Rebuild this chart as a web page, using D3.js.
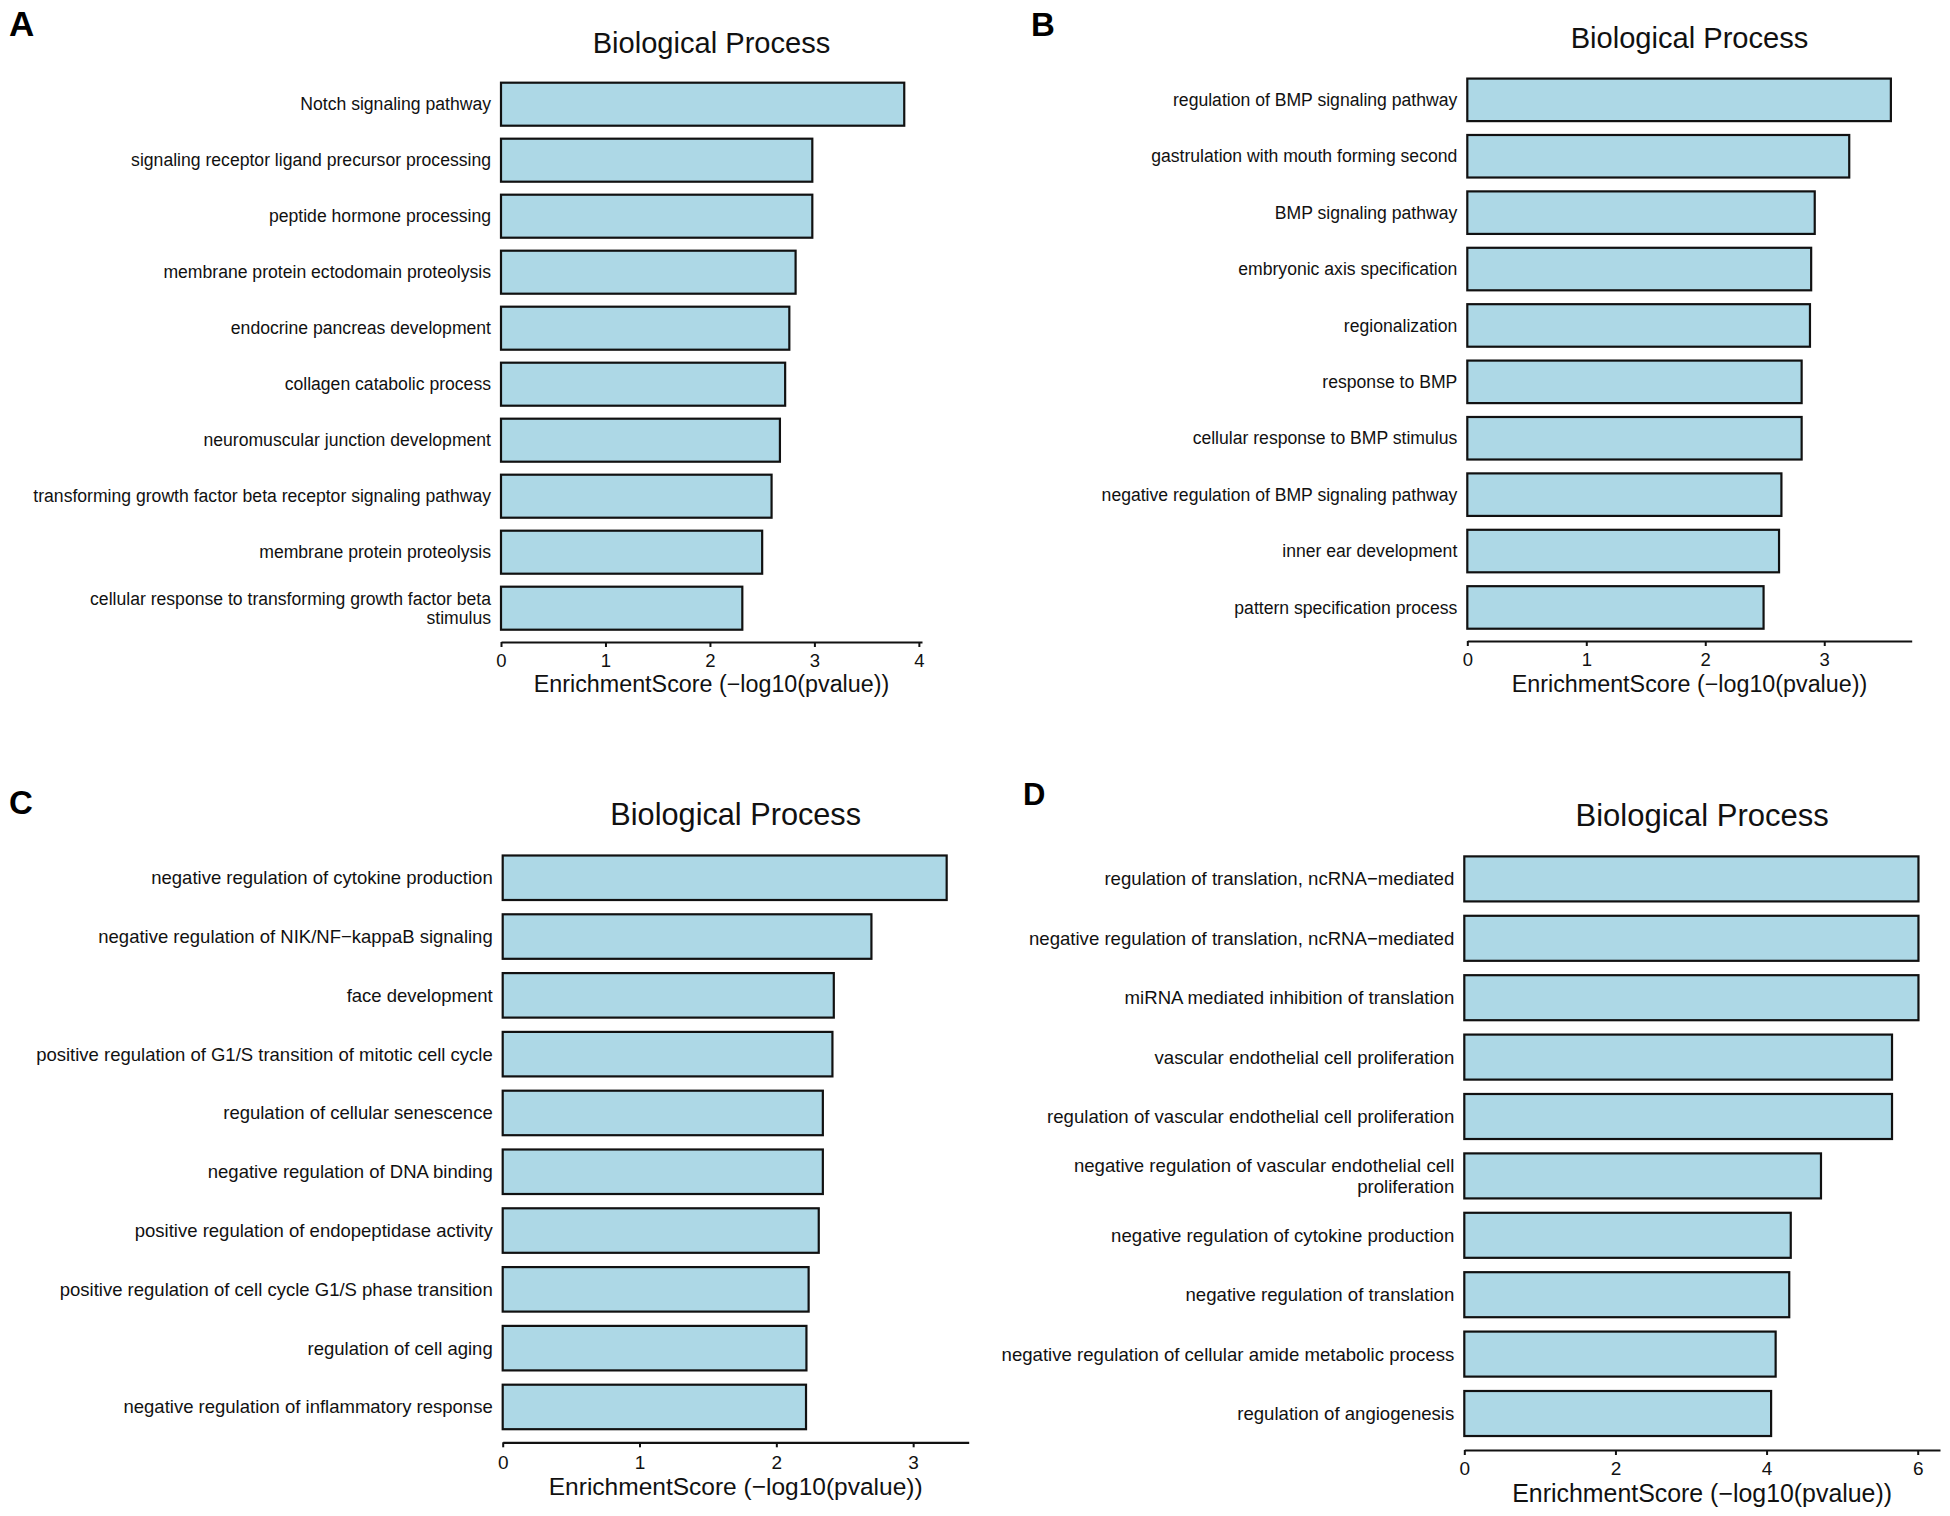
<!DOCTYPE html>
<html>
<head>
<meta charset="utf-8">
<script src="https://cdn.jsdelivr.net/npm/d3@7"></script>
<style>
  html, body { margin: 0; padding: 0; background: #ffffff; }
  svg { display: block; font-family: "Liberation Sans", Arial, Helvetica, sans-serif; }
</style>
</head>
<body>
<svg id="chart" width="1950" height="1516"></svg>
<script>
// ---------------- DATA ----------------
const panelTitle = "Biological Process";
const axisTitle = "EnrichmentScore (\u2212log10(pvalue))";

const categoriesA = [
  "Notch signaling pathway",
  "signaling receptor ligand precursor processing",
  "peptide hormone processing",
  "membrane protein ectodomain proteolysis",
  "endocrine pancreas development",
  "collagen catabolic process",
  "neuromuscular junction development",
  "transforming growth factor beta receptor signaling pathway",
  "membrane protein proteolysis",
  "cellular response to transforming growth factor beta stimulus"
];
const valuesA = [3.86, 2.98, 2.98, 2.82, 2.76, 2.72, 2.67, 2.59, 2.50, 2.31];
const ticksA = [0, 1, 2, 3, 4];

const categoriesB = [
  "regulation of BMP signaling pathway",
  "gastrulation with mouth forming second",
  "BMP signaling pathway",
  "embryonic axis specification",
  "regionalization",
  "response to BMP",
  "cellular response to BMP stimulus",
  "negative regulation of BMP signaling pathway",
  "inner ear development",
  "pattern specification process"
];
const valuesB = [3.56, 3.21, 2.92, 2.89, 2.88, 2.81, 2.81, 2.64, 2.62, 2.49];
const ticksB = [0, 1, 2, 3];

const categoriesC = [
  "negative regulation of cytokine production",
  "negative regulation of NIK/NF\u2212kappaB signaling",
  "face development",
  "positive regulation of G1/S transition of mitotic cell cycle",
  "regulation of cellular senescence",
  "negative regulation of DNA binding",
  "positive regulation of endopeptidase activity",
  "positive regulation of cell cycle G1/S phase transition",
  "regulation of cell aging",
  "negative regulation of inflammatory response"
];
const valuesC = [3.245, 2.695, 2.42, 2.41, 2.34, 2.34, 2.31, 2.236, 2.22, 2.217];
const ticksC = [0, 1, 2, 3];

const categoriesD = [
  "regulation of translation, ncRNA\u2212mediated",
  "negative regulation of translation, ncRNA\u2212mediated",
  "miRNA mediated inhibition of translation",
  "vascular endothelial cell proliferation",
  "regulation of vascular endothelial cell proliferation",
  "negative regulation of vascular endothelial cell proliferation",
  "negative regulation of cytokine production",
  "negative regulation of translation",
  "negative regulation of cellular amide metabolic process",
  "regulation of angiogenesis"
];
const valuesD = [6.01, 6.01, 6.01, 5.66, 5.66, 4.72, 4.32, 4.30, 4.12, 4.06];
const ticksD = [0, 2, 4, 6];

const panelLetters = ["A", "B", "C", "D"];

// ---------------- LAYOUT ----------------
const layouts = [
  { letter: {x: 9, y: 36, size: 35}, xRange: [501, 922], xMax: 4.03, yRange: [76.2, 636.2], pad: 0.232,
    axisY: 642, titleY: 53.3, titleSize: 29.1, labelSize: 17.6, tickSize: 18.5, tickBase: 24.5,
    axisTitleY: 691.7, axisTitleSize: 23.3 },
  { letter: {x: 1031, y: 36, size: 33}, xRange: [1467.3, 1911.7], xMax: 3.735, yRange: [71.65, 635.65], pad: 0.246,
    axisY: 641, titleY: 48.3, titleSize: 29.1, labelSize: 17.6, tickSize: 18.5, tickBase: 25,
    axisTitleY: 691.7, axisTitleSize: 23.3 },
  { letter: {x: 9, y: 814, size: 33}, xRange: [502.7, 968.7], xMax: 3.406, yRange: [848.35, 1436.35], pad: 0.243,
    axisY: 1442.3, titleY: 825, titleSize: 30.7, labelSize: 18.5, tickSize: 19, tickBase: 26.5,
    axisTitleY: 1495, axisTitleSize: 24.5 },
  { letter: {x: 1023, y: 805, size: 31}, xRange: [1464.3, 1940], xMax: 6.295, yRange: [849.2, 1443.2], pad: 0.242,
    axisY: 1450, titleY: 826, titleSize: 31, labelSize: 18.6, tickSize: 19, tickBase: 25,
    axisTitleY: 1501.7, axisTitleSize: 24.9 }
];

const panelsData = [
  {cats: categoriesA, vals: valuesA, ticks: ticksA},
  {cats: categoriesB, vals: valuesB, ticks: ticksB},
  {cats: categoriesC, vals: valuesC, ticks: ticksC},
  {cats: categoriesD, vals: valuesD, ticks: ticksD}
];

const svg = d3.select("#chart");
const textColor = "#111111";

// greedy wrap to 60 characters (like stringr::str_wrap)
function wrap(s, width) {
  const words = s.split(" ");
  const lines = [];
  let cur = "";
  words.forEach(w => {
    if (cur.length === 0) cur = w;
    else if ((cur + " " + w).length <= width) cur += " " + w;
    else { lines.push(cur); cur = w; }
  });
  if (cur.length) lines.push(cur);
  return lines;
}

panelsData.forEach((pd, i) => {
  const L = layouts[i];
  const g = svg.append("g");

  const x = d3.scaleLinear().domain([0, L.xMax]).range(L.xRange);
  const y = d3.scaleBand().domain(pd.cats).range(L.yRange)
    .paddingInner(L.pad).paddingOuter(L.pad / 2);

  const rows = pd.cats.map((c, k) => ({cat: c, val: pd.vals[k]}));

  // bars
  g.selectAll("rect.bar").data(rows).enter().append("rect")
    .attr("class", "bar")
    .attr("x", x(0))
    .attr("y", d => y(d.cat))
    .attr("width", d => x(d.val) - x(0))
    .attr("height", y.bandwidth())
    .attr("fill", "#ADD8E6")
    .attr("stroke", "#111111")
    .attr("stroke-width", 2.2);

  // category labels
  const labels = g.selectAll("text.cat").data(rows).enter().append("text")
    .attr("class", "cat")
    .attr("x", x(0) - 10)
    .attr("y", d => y(d.cat) + y.bandwidth() / 2)
    .attr("text-anchor", "end")
    .attr("fill", textColor)
    .attr("font-size", L.labelSize);
  labels.each(function(d) {
    const lines = wrap(d.cat, 60);
    const t = d3.select(this);
    const lh = 1.1;
    lines.forEach((ln, j) => {
      t.append("tspan")
        .attr("x", x(0) - 10)
        .attr("dy", j === 0 ? (0.35 - (lines.length - 1) * lh / 2) + "em" : lh + "em")
        .text(ln);
    });
  });

  // x axis
  const tickLen = 5;
  const fontPx = L.tickSize;
  const padPx = L.tickBase - tickLen - 0.71 * fontPx;
  const axis = d3.axisBottom(x).tickValues(pd.ticks).tickFormat(d3.format("d"))
    .tickSizeInner(tickLen).tickSizeOuter(0).tickPadding(padPx);
  const ag = g.append("g").attr("transform", `translate(0,${L.axisY})`).call(axis);
  ag.attr("font-size", fontPx).attr("font-family", "\"Liberation Sans\", Arial, Helvetica, sans-serif");
  ag.select(".domain").attr("stroke", "#111111").attr("stroke-width", 2.2);
  ag.selectAll(".tick line").attr("stroke", "#111111").attr("stroke-width", 2);
  ag.selectAll(".tick text").attr("fill", textColor).attr("font-size", fontPx);

  const cx = (L.xRange[0] + L.xRange[1]) / 2;

  // axis title
  g.append("text")
    .attr("x", cx).attr("y", L.axisTitleY)
    .attr("text-anchor", "middle")
    .attr("fill", textColor)
    .attr("font-size", L.axisTitleSize)
    .text(axisTitle);

  // panel title
  g.append("text")
    .attr("x", cx).attr("y", L.titleY)
    .attr("text-anchor", "middle")
    .attr("fill", textColor)
    .attr("font-size", L.titleSize)
    .text(panelTitle);

  // panel letter
  g.append("text")
    .attr("x", L.letter.x).attr("y", L.letter.y)
    .attr("fill", "#000")
    .attr("font-size", L.letter.size)
    .attr("font-weight", "bold")
    .text(panelLetters[i]);
});
</script>
</body>
</html>
